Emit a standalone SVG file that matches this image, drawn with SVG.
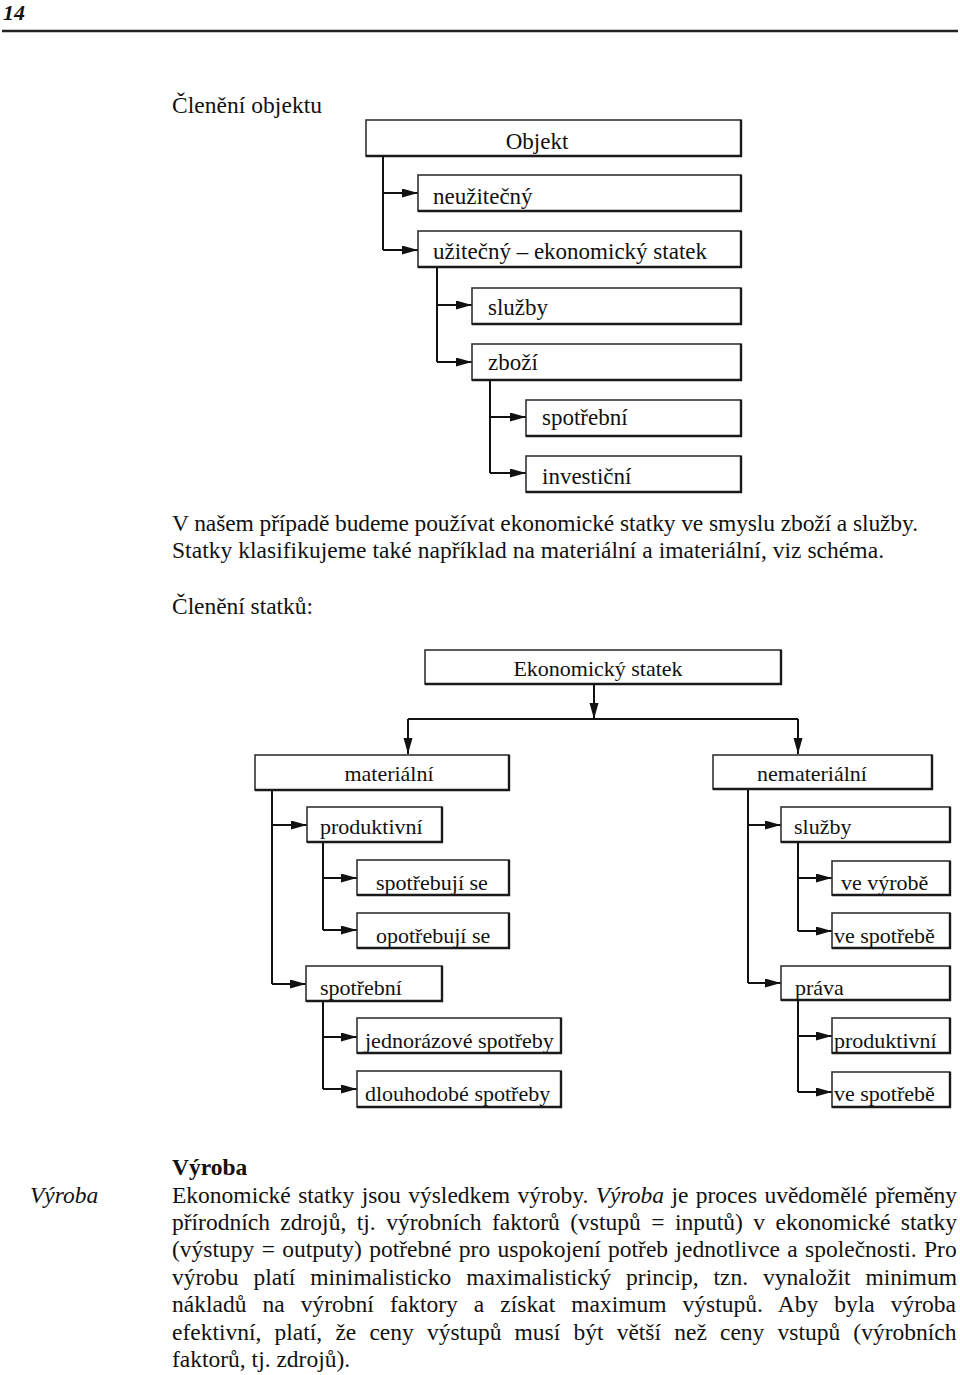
<svg xmlns="http://www.w3.org/2000/svg" width="960" height="1375" viewBox="0 0 960 1375">
<style>
text{font-family:"Liberation Serif","Times New Roman",serif;fill:#111;}
.t{font-size:23.5px;}
.d1{font-size:23px;}
.d2{font-size:22px;}
.box{fill:#fff;stroke:#333;stroke-width:1.6;}
.sh{fill:none;stroke:#1a1a1a;stroke-width:2.4;}
.c{fill:none;stroke:#111;stroke-width:2;}
</style>
<defs>
<marker id="ah" markerUnits="userSpaceOnUse" markerWidth="17" markerHeight="10" refX="16" refY="4.5" orient="auto">
<path d="M0,0 L16,4.5 L0,9 z" fill="#111"/>
</marker>
</defs>
<rect width="960" height="1375" fill="#fff"/>
<text x="3" y="20" style="font-size:22px;font-style:italic;font-weight:bold">14</text>
<line x1="2" y1="31" x2="958" y2="31" stroke="#222" stroke-width="2.5"/>
<text class="t" x="172" y="113" textLength="150">Členění objektu</text>
<g id="connectors">
<path class="c" d="M383,156 V250"/>
<path class="c" d="M383,193 H418" marker-end="url(#ah)"/>
<path class="c" d="M383,250 H418" marker-end="url(#ah)"/>
<path class="c" d="M437,267 V362"/>
<path class="c" d="M437,305 H472" marker-end="url(#ah)"/>
<path class="c" d="M437,362 H472" marker-end="url(#ah)"/>
<path class="c" d="M490,380 V473"/>
<path class="c" d="M490,417 H526" marker-end="url(#ah)"/>
<path class="c" d="M490,473 H526" marker-end="url(#ah)"/>
<path class="c" d="M594,684 V719" marker-end="url(#ah)"/>
<path class="c" d="M408,719 H798"/>
<path class="c" d="M408,719 V754" marker-end="url(#ah)"/>
<path class="c" d="M798,719 V754" marker-end="url(#ah)"/>
<path class="c" d="M272,790 V984"/>
<path class="c" d="M272,825 H307" marker-end="url(#ah)"/>
<path class="c" d="M272,984 H306" marker-end="url(#ah)"/>
<path class="c" d="M323,842 V930"/>
<path class="c" d="M323,878 H357" marker-end="url(#ah)"/>
<path class="c" d="M323,930 H357" marker-end="url(#ah)"/>
<path class="c" d="M323,1001 V1089"/>
<path class="c" d="M323,1037 H357" marker-end="url(#ah)"/>
<path class="c" d="M323,1089 H357" marker-end="url(#ah)"/>
<path class="c" d="M748,789 V983"/>
<path class="c" d="M748,825 H781" marker-end="url(#ah)"/>
<path class="c" d="M748,983 H781" marker-end="url(#ah)"/>
<path class="c" d="M798,842 V931"/>
<path class="c" d="M798,878 H832" marker-end="url(#ah)"/>
<path class="c" d="M798,931 H832" marker-end="url(#ah)"/>
<path class="c" d="M798,990 V1092"/>
<path class="c" d="M798,1036 H832" marker-end="url(#ah)"/>
<path class="c" d="M798,1092 H832" marker-end="url(#ah)"/>
</g>
<g id="n-objekt"><rect class="box" x="366" y="120" width="375" height="36"/><path class="sh" d="M741,120 V156 H366"/><text class="d1" x="537" y="149" text-anchor="middle">Objekt</text></g>
<g id="n-neuzitecny"><rect class="box" x="418" y="175" width="323" height="36"/><path class="sh" d="M741,175 V211 H418"/><text class="d1" x="433" y="204">neužitečný</text></g>
<g id="n-uzitecny"><rect class="box" x="418" y="231" width="323" height="36"/><path class="sh" d="M741,231 V267 H418"/><text class="d1" x="433" y="259">užitečný – ekonomický statek</text></g>
<g id="n-sluzby1"><rect class="box" x="472" y="288" width="269" height="36"/><path class="sh" d="M741,288 V324 H472"/><text class="d1" x="488" y="315">služby</text></g>
<g id="n-zbozi"><rect class="box" x="472" y="344" width="269" height="36"/><path class="sh" d="M741,344 V380 H472"/><text class="d1" x="488" y="370">zboží</text></g>
<g id="n-spotrebni1"><rect class="box" x="526" y="400" width="215" height="36"/><path class="sh" d="M741,400 V436 H526"/><text class="d1" x="542" y="425">spotřební</text></g>
<g id="n-investicni"><rect class="box" x="526" y="456" width="215" height="36"/><path class="sh" d="M741,456 V492 H526"/><text class="d1" x="542" y="484">investiční</text></g>
<text class="t" x="172" y="531" textLength="746">V našem případě budeme používat ekonomické statky ve smyslu zboží a služby.</text>
<text class="t" x="172" y="558" textLength="712">Statky klasifikujeme také například na materiální a imateriální, viz schéma.</text>
<text class="t" x="172" y="614" textLength="141">Členění statků:</text>
<g id="n-ekonomicky"><rect class="box" x="425" y="650" width="356" height="34"/><path class="sh" d="M781,650 V684 H425"/><text class="d2" x="598" y="676" text-anchor="middle">Ekonomický statek</text></g>
<g id="n-materialni"><rect class="box" x="255" y="755" width="254" height="35"/><path class="sh" d="M509,755 V790 H255"/><text class="d2" x="389" y="781" text-anchor="middle">materiální</text></g>
<g id="n-nematerialni"><rect class="box" x="713" y="755" width="219" height="34"/><path class="sh" d="M932,755 V789 H713"/><text class="d2" x="812" y="781" text-anchor="middle">nemateriální</text></g>
<g id="n-produktivni1"><rect class="box" x="307" y="807" width="135" height="35"/><path class="sh" d="M442,807 V842 H307"/><text class="d2" x="320" y="834">produktivní</text></g>
<g id="n-spotrebujise"><rect class="box" x="357" y="860" width="152" height="35"/><path class="sh" d="M509,860 V895 H357"/><text class="d2" x="376" y="890">spotřebují se</text></g>
<g id="n-opotrebujise"><rect class="box" x="357" y="913" width="152" height="35"/><path class="sh" d="M509,913 V948 H357"/><text class="d2" x="376" y="943">opotřebují se</text></g>
<g id="n-spotrebni2"><rect class="box" x="306" y="966" width="136" height="35"/><path class="sh" d="M442,966 V1001 H306"/><text class="d2" x="320" y="995">spotřební</text></g>
<g id="n-jednorazove"><rect class="box" x="357" y="1018" width="204" height="35"/><path class="sh" d="M561,1018 V1053 H357"/><text class="d2" x="365" y="1048">jednorázové spotřeby</text></g>
<g id="n-dlouhodobe"><rect class="box" x="357" y="1071" width="204" height="36"/><path class="sh" d="M561,1071 V1107 H357"/><text class="d2" x="365" y="1101">dlouhodobé spotřeby</text></g>
<g id="n-sluzby2"><rect class="box" x="781" y="807" width="169" height="35"/><path class="sh" d="M950,807 V842 H781"/><text class="d2" x="794" y="834">služby</text></g>
<g id="n-vevyrobe"><rect class="box" x="832" y="861" width="118" height="34"/><path class="sh" d="M950,861 V895 H832"/><text class="d2" x="841" y="890">ve výrobě</text></g>
<g id="n-vespotrebe1"><rect class="box" x="832" y="913" width="118" height="35"/><path class="sh" d="M950,913 V948 H832"/><text class="d2" x="834" y="943">ve spotřebě</text></g>
<g id="n-prava"><rect class="box" x="781" y="966" width="169" height="34"/><path class="sh" d="M950,966 V1000 H781"/><text class="d2" x="795" y="995">práva</text></g>
<g id="n-produktivni2"><rect class="box" x="832" y="1018" width="118" height="35"/><path class="sh" d="M950,1018 V1053 H832"/><text class="d2" x="834" y="1048">produktivní</text></g>
<g id="n-vespotrebe2"><rect class="box" x="832" y="1072" width="118" height="35"/><path class="sh" d="M950,1072 V1107 H832"/><text class="d2" x="834" y="1101">ve spotřebě</text></g>
<text class="t" x="30" y="1203" style="font-style:italic">Výroba</text>
<text class="t" x="172" y="1175" style="font-weight:bold">Výroba</text>
<text class="t" x="172" y="1203" word-spacing="1.5">Ekonomické statky jsou výsledkem výroby. <tspan font-style="italic">Výroba</tspan> je proces uvědomělé přeměny</text>
<text class="t" x="172" y="1230" word-spacing="4.6">přírodních zdrojů, tj. výrobních faktorů (vstupů = inputů) v ekonomické statky</text>
<text class="t" x="172" y="1257" word-spacing="1.5">(výstupy = outputy) potřebné pro uspokojení potřeb jednotlivce a společnosti. Pro</text>
<text class="t" x="172" y="1285" word-spacing="9.1">výrobu platí minimalisticko maximalistický princip, tzn. vynaložit minimum</text>
<text class="t" x="172" y="1312" word-spacing="10.2">nákladů na výrobní faktory a získat maximum výstupů. Aby byla výroba</text>
<text class="t" x="172" y="1340" word-spacing="7.3">efektivní, platí, že ceny výstupů musí být větší než ceny vstupů (výrobních</text>
<text class="t" x="172" y="1367">faktorů, tj. zdrojů).</text>
</svg>
